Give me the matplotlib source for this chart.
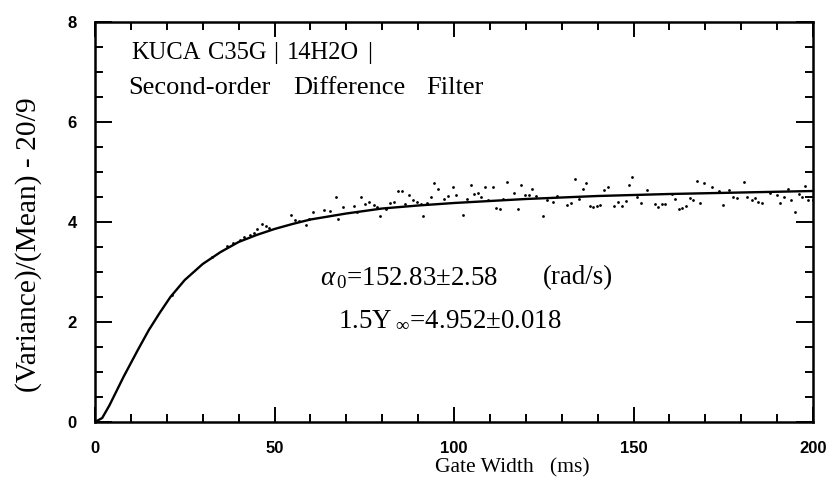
import matplotlib
matplotlib.use("Agg")
import matplotlib.pyplot as plt
import numpy as np

plt.rcParams['mathtext.fontset'] = 'custom'
plt.rcParams['mathtext.rm'] = 'Liberation Serif'
plt.rcParams['mathtext.it'] = 'Liberation Serif:italic'
plt.rcParams['mathtext.bf'] = 'Liberation Serif:bold'

# Fitted curve (gate width ms, value)
curve_x = [0, 2, 4, 6, 8, 10, 12, 15, 18, 21, 25, 30, 35, 40, 45, 50, 55, 60, 70,
           80, 90, 100, 120, 140, 160, 180, 200]
curve_y = [0.0, 0.08, 0.33, 0.62, 0.91, 1.18, 1.45, 1.84, 2.18, 2.50, 2.84, 3.16, 3.40,
           3.60, 3.74, 3.86, 3.96, 4.05, 4.17, 4.27, 4.33, 4.38, 4.46, 4.52, 4.56, 4.59, 4.62]

# Measured points (gate width ms, value)
pts_x = [21.5, 32.5, 36.8, 38.5, 40.3, 41.6, 43.1, 44.2, 45.2, 46.4, 47.5, 48.6,
         54.5, 55.7, 56.8, 58.7, 59.6, 60.8, 63.8, 65.5, 67.0, 67.7, 69.1, 72.2, 73.1,
         74.2, 75.1, 76.3, 77.6, 78.5, 79.4, 81.0, 82.2, 83.3, 84.4, 85.5, 86.3, 87.5,
         88.5, 89.6, 90.8, 91.5, 92.5, 93.6, 94.5, 95.6,
         97.3, 98.4, 99.6, 100.6, 102.4, 103.6, 104.7, 105.7, 106.6, 107.5, 108.7, 109.6,
         110.8, 111.7, 112.7, 113.6, 114.7, 116.7, 117.8, 118.7, 119.8, 120.8, 121.8,
         122.9, 124.8, 126.0, 127.6, 128.7, 131.6, 132.7, 133.8, 134.7, 135.9, 136.8,
         137.8, 138.7, 139.7, 140.6, 141.8, 143.0, 144.6, 145.7, 146.8, 147.8, 148.8,
         149.7, 150.9, 152.1, 153.8, 156.0, 156.7, 157.9, 158.8, 160.6, 161.6, 162.7,
         163.6, 164.7, 165.7, 166.7, 167.8, 168.6, 169.7, 171.8, 173.7, 174.8, 176.6,
         177.8, 178.8, 180.7, 181.6, 183.0, 183.9, 184.8, 185.7, 188.1, 189.9, 190.9,
         191.8, 193.0, 193.9, 195.0, 196.2, 196.9, 197.8, 198.7, 199.9]
pts_y = [2.55, 3.30, 3.52, 3.58, 3.65, 3.71, 3.75, 3.79, 3.87, 3.97, 3.92, 3.89,
         4.14, 4.04, 4.02, 3.95, 4.07, 4.19, 4.24, 4.22, 4.51, 4.07, 4.31, 4.32, 4.21,
         4.51, 4.37, 4.41, 4.34, 4.31, 4.12, 4.27, 4.39, 4.41, 4.61, 4.63, 4.37, 4.54,
         4.44, 4.41, 4.37, 4.13, 4.39, 4.51, 4.79, 4.67,
         4.47, 4.52, 4.69, 4.54, 4.14, 4.47, 4.73, 4.56, 4.59, 4.51, 4.71, 4.45,
         4.69, 4.29, 4.26, 4.47, 4.81, 4.59, 4.27, 4.75, 4.54, 4.54, 4.66,
         4.52, 4.12, 4.44, 4.41, 4.52, 4.34, 4.39, 4.87, 4.47, 4.65, 4.79,
         4.33, 4.31, 4.33, 4.34, 4.64, 4.71, 4.33, 4.41, 4.33, 4.42, 4.73,
         4.91, 4.51, 4.39, 4.64, 4.37, 4.31, 4.36, 4.37, 4.57, 4.46, 4.27,
         4.29, 4.33, 4.49, 4.44, 4.82, 4.39, 4.79, 4.69, 4.62, 4.34, 4.64,
         4.51, 4.49, 4.81, 4.51, 4.45, 4.49, 4.41, 4.39, 4.59, 4.54, 4.39,
         4.51, 4.66, 4.45, 4.21, 4.57, 4.51, 4.72, 4.44, 4.45]

x_ticks = [0, 50, 100, 150, 200]
y_ticks = [0, 2, 4, 6, 8]

SERIF = 'Liberation Serif'

fig = plt.figure(figsize=(8.35, 4.97), dpi=100)
ax = fig.add_axes([95 / 835, 1 - 422 / 497, 718 / 835, 400 / 497])

ax.plot(curve_x, curve_y, color='black', lw=1.7, solid_capstyle='round')
ax.scatter(pts_x, pts_y, s=4, color='black', linewidths=0, zorder=3)

ax.set_xlim(0, 200)
ax.set_ylim(0, 8)
ax.set_xticks(x_ticks)
ax.set_yticks(y_ticks)
ax.set_xticks(np.arange(0, 201, 10), minor=True)
ax.set_yticks(np.arange(0, 8.01, 0.5), minor=True)
ax.tick_params(which='both', direction='in', top=True, right=True, width=1.4)
ax.tick_params(axis='x', which='major', length=11, labelsize=12, pad=14)
ax.tick_params(axis='y', which='major', length=12, labelsize=12, pad=13)
ax.tick_params(which='minor', length=6)
for lab in ax.get_xticklabels() + ax.get_yticklabels():
    lab.set_family('Liberation Sans')
    lab.set_fontweight('bold')
for sp in ax.spines.values():
    sp.set_linewidth(1.8)

fig.canvas.draw()
renderer = fig.canvas.get_renderer()


def fit_size(s, target_px, start=16.0, vertical=False, **kw):
    t = fig.text(0, 0, s, fontsize=start, **kw)
    bb = t.get_window_extent(renderer)
    size = start * target_px / (bb.height if vertical else bb.width)
    t.remove()
    return size


fs_sec = fit_size('Second-order', 142, family=SERIF)
fs_top = 0.93 * fs_sec
fs_ann = fit_size('(rad/s)', 70, family=SERIF)
fs_xl = fit_size('Gate Width   (ms)', 155, family=SERIF)
fs_yl = fit_size('(Variance)/(Mean) - 20/9', 295, family=SERIF)

kw = dict(family=SERIF, va='center', ha='left')
for word, xpos in [('KUCA', 10.2), ('C35G', 31.5), ('|', 49.5), ('14H2O', 53.4), ('|', 75.7)]:
    ax.text(xpos, 7.38, word, fontsize=fs_top, **kw)
for word, xpos in [('Second-order', 9.3), ('Difference', 55.2), ('Filter', 92.4)]:
    ax.text(xpos, 6.68, word, fontsize=fs_sec, **kw)

ax.text(62.7, 2.88, r'$\alpha_{\,0}$=152.83$\pm$2.58', fontsize=fs_ann, **kw)
ax.text(124.8, 2.88, '(rad/s)', fontsize=fs_ann, **kw)
ax.text(130.1, 2.04, r'1.5Y$_{\ \infty}$=4.952$\pm$0.018', fontsize=fs_ann,
        family=SERIF, va='center', ha='right')

ax.text(94.7, -0.92, 'Gate Width   (ms)', fontsize=fs_xl, family=SERIF,
        va='center', ha='left', clip_on=False)
ax.text(-18.4, 3.54, '(Variance)/(Mean) - 20/9', fontsize=fs_yl, family=SERIF,
        rotation=90, va='center', ha='center', clip_on=False)

fig.savefig('out.png', dpi=100)
